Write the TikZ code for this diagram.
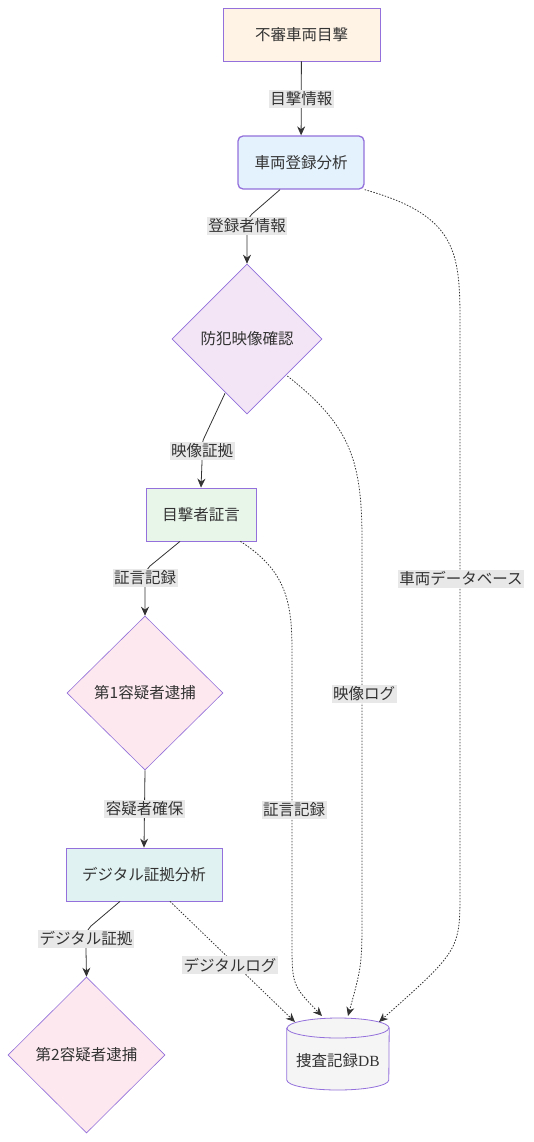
\documentclass[tikz,border=0pt]{standalone}
\usepackage{fontspec}
\setmainfont{Noto Sans CJK JP}
\newfontfamily\serifdb{Liberation Serif}
\usetikzlibrary{shapes.geometric,arrows.meta,calc}
\definecolor{bord}{HTML}{9370DB}
\definecolor{ln}{HTML}{333333}
\definecolor{lbl}{HTML}{E8E8E8}
\tikzset{
  base/.style={draw=bord, text=ln, font=\fontsize{15.5}{18}\selectfont, inner sep=0pt, line width=0.8pt},
  box/.style={base, rectangle},
  dia/.style={base, diamond, aspect=1, minimum width=150pt, minimum height=150pt, line width=0.6pt},
  edge/.style={draw=ln, line width=0.8pt, -{Stealth[length=9pt,width=8pt]}},
  dedge/.style={edge, dash pattern=on 1.5pt off 1.5pt},
  lab/.style={fill=lbl, text=ln, font=\fontsize{15.5}{18}\selectfont, inner sep=1.5pt},
}
\begin{document}
\begin{tikzpicture}[x=1pt,y=-1pt]
\useasboundingbox (0,0) rectangle (534,1142);
\node[box, fill={rgb,255:red,255;green,243;blue,230}, minimum width=157pt, minimum height=53pt] (n1) at (301.5,34.5) {不審車両目撃};
\node[box, rounded corners=5pt, line width=1.3pt, fill={rgb,255:red,227;green,242;blue,253}, minimum width=126pt, minimum height=53pt] (n2) at (301,162.5) {車両登録分析};
\node[dia, fill={rgb,255:red,243;green,229;blue,245}] (n3) at (247,339) {防犯映像確認};
\node[box, fill={rgb,255:red,232;green,245;blue,233}, minimum width=110pt, minimum height=53pt] (n4) at (201,514.5) {目撃者証言};
\node[dia, fill={rgb,255:red,252;green,232;blue,238}, minimum width=156pt, minimum height=154pt] (n5) at (145,693) {第1容疑者逮捕};
\node[box, fill={rgb,255:red,224;green,242;blue,241}, minimum width=156pt, minimum height=53pt] (n6) at (144,874.5) {デジタル証拠分析};
\node[dia, fill={rgb,255:red,252;green,232;blue,238}, minimum width=157pt, minimum height=156pt] (n7) at (86.5,1055) {第2容疑者逮捕};
% cylinder
\node[inner sep=0pt, minimum width=102pt, minimum height=72pt] (db) at (338,1054) {};
\filldraw[draw=bord, fill={rgb,255:red,245;green,245;blue,245}, line width=0.8pt]
  (db.west |- 0,1028) -- (db.west |- 0,1080) arc[start angle=180, end angle=360, x radius=51pt, y radius=10pt]
  -- (db.east |- 0,1028) arc[start angle=0, end angle=180, x radius=51pt, y radius=10pt] -- cycle;
\draw[draw=bord, line width=0.8pt] (db.west |- 0,1028) arc[start angle=180, end angle=360, x radius=51pt, y radius=10pt];
\node[text=ln, font=\fontsize{15.5}{18}\selectfont] at (338,1061) {捜査記録{\serifdb DB}};
\coordinate (d6) at (295,1022);
\coordinate (d4) at (322,1016);
\coordinate (d3) at (348,1016);
\coordinate (d2) at (379,1022);
% solid edges
\draw[edge] (n1) -- (n2) node[lab, pos=0.51] {目撃情報};
\draw[edge] ($(n2.south)+(-21,0)$) -- (252,214) .. controls (247,220) .. (247,240) -- (n3.north);
\node[lab] at (247,226) {登録者情報};
\draw[edge] ($(n3.south)+(-22,-21)$) -- (205,436) .. controls (202,442) .. (202,462) -- (n4.north);
\node[lab] at (202,451) {映像証拠};
\draw[edge] ($(n4.south)+(-21,0)$) -- (150,566) .. controls (145,572) .. (145,590) -- (n5.north);
\node[lab] at (145,578) {証言記録};
\draw[edge] (n5.south) -- (n6.north) node[lab, midway] {容疑者確保};
\draw[edge] ($(n6.south)+(-24,0)$) -- (91,926) .. controls (86,932) .. (86,950) -- (n7.north);
\node[lab] at (86,939) {デジタル証拠};
% dotted edges
\draw[dedge] (n2.south east) .. controls (455,215) and (460,250) .. (460,320) -- (460,890) .. controls (460,950) .. (d2);
\node[lab] at (461,579) {車両データベース};
\draw[dedge] ($(n3.east)+(-35,37)$) .. controls (350,425) and (362,460) .. (362,540) -- (362,910) .. controls (362,965) .. (d3);
\node[lab] at (364,694) {映像ログ};
\draw[dedge] ($(n4.south east)+(-16,0)$) .. controls (285,570) and (292,600) .. (292,650) -- (292,940) .. controls (292,985) .. (d4);
\node[lab] at (294,810) {証言記録};
\draw[dedge] ($(n6.south)+(26,0)$) .. controls (230,960) .. (d6);
\node[lab] at (230,965) {デジタルログ};
\end{tikzpicture}
\end{document}
